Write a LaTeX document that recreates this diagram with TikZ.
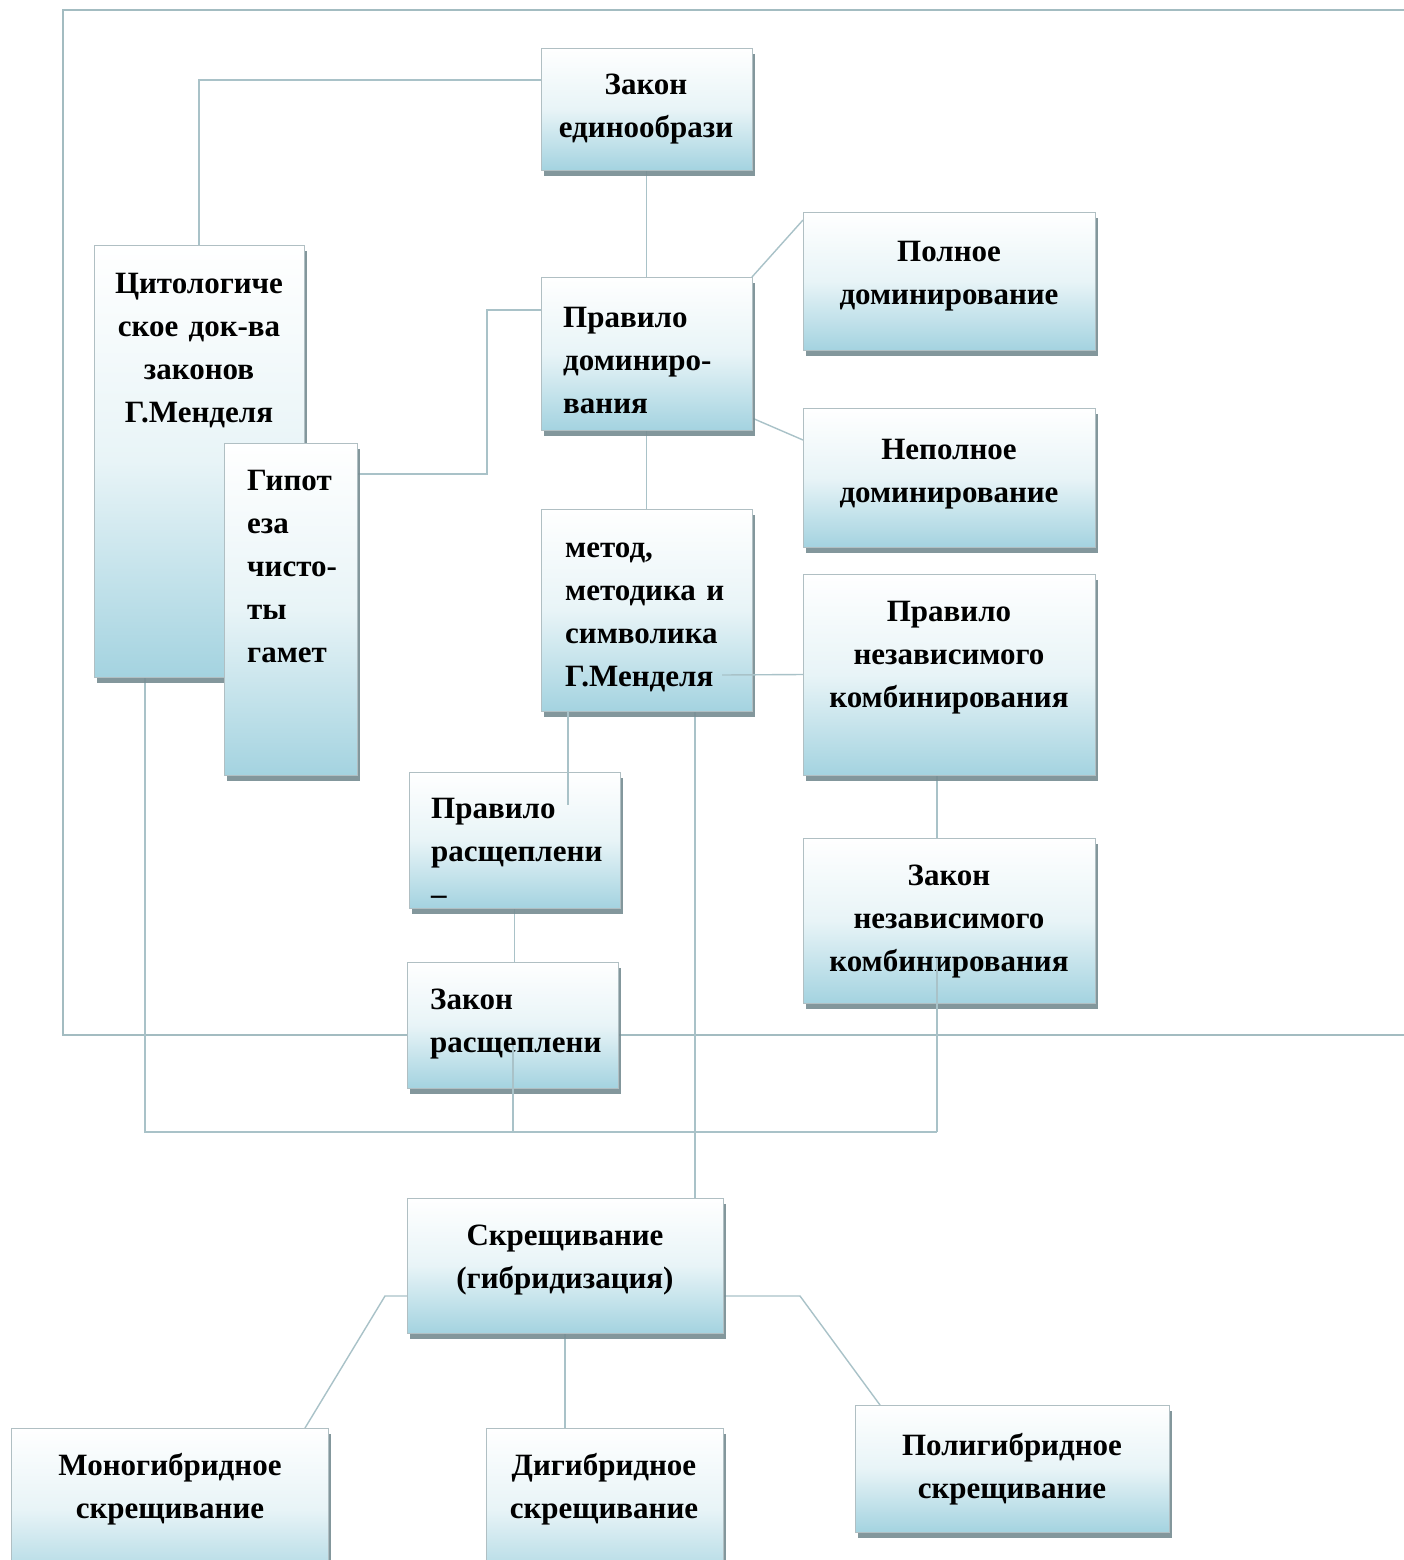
\documentclass[tikz,border=0pt]{standalone}
\usepackage{fontspec}
\setmainfont{Liberation Serif}
\usetikzlibrary{shadows,backgrounds}

\definecolor{boxtop}{HTML}{FFFFFF}
\definecolor{boxmid}{HTML}{E8F4F7}
\definecolor{boxbot}{HTML}{A4D3E0}
\definecolor{boxedge}{HTML}{B0BFC3}
\definecolor{shadowc}{HTML}{768C92}
\definecolor{linkc}{HTML}{A9C2C8}
\definecolor{framec}{HTML}{A3BCC1}

\tikzset{
  gbox/.style={draw=boxedge, line width=0.8pt,
    top color=boxtop, bottom color=boxbot, middle color=boxmid,
    inner sep=0pt, outer sep=0pt,
    drop shadow={shadow xshift=3pt, shadow yshift=-6pt, fill=shadowc, opacity=0.9}},
  txt/.style={font=\fontsize{31}{43}\selectfont\bfseries, inner sep=0pt, text=black},
  ctxt/.style={txt, align=center, anchor=base},
  ltxt/.style={txt, align=left, anchor=base west, text width=190pt},
  link/.style={draw=linkc, line width=1.4pt},
  framel/.style={draw=framec, line width=2pt},
}

% box from (x1,y1) to (x2,y2)
\newcommand\gbox[5]{\node[gbox, minimum width={(#4-#2)*1pt}, minimum height={(#5-#3)*1pt}]
  (#1) at ({(#2+#4)/2},{(#3+#5)/2}) {};}

\begin{document}
\begin{tikzpicture}[x=1pt,y=-1pt]
\useasboundingbox (0,0) rectangle (1404,1560);

% boxes
\gbox{b1}{541}{48}{752}{170}
\gbox{b2}{94}{245}{304}{677}
\gbox{b3}{224}{443}{357}{775}
\gbox{b4}{541}{277}{752}{430}
\gbox{b5}{803}{212}{1095}{350}
\gbox{b6}{803}{408}{1095}{547}
\gbox{b7}{541}{509}{752}{711}
\gbox{b8}{803}{574}{1095}{775}
\gbox{b9}{409}{772}{620}{908}
\gbox{b10}{803}{838}{1095}{1003}
\gbox{b11}{407}{962}{618}{1088}
\gbox{b12}{407}{1198}{723}{1333}
\gbox{b13}{11}{1428}{328}{1590}
\gbox{b14}{486}{1428}{723}{1590}
\gbox{b15}{855}{1405}{1169}{1532}

% labels
\node[ctxt, text width=200pt] (t1) at (646,95) {Закон\\единообрази};
\node[ctxt, text width=200pt] (t2) at (199,293) {Цитологиче\\ское док-ва\\законов\\Г.Менделя};
\node[ltxt, text width=110pt] (t3) at (247,490) {Гипот\\еза\\чисто-\\ты\\гамет};
\node[ltxt] (t4) at (563,327) {Правило\\доминиро-\\вания};
\node[ctxt, text width=280pt] (t5) at (949,261) {Полное\\доминирование};
\node[ctxt, text width=280pt] (t6) at (949,459) {Неполное\\доминирование};
\node[ltxt] (t7) at (565,557) {метод,\\методика и\\символика\\Г.Менделя};
\node[ctxt, text width=280pt] (t8) at (949,621) {Правило\\независимого\\комбинирования};
\node[ltxt] (t9) at (431,818) {Правило\\расщеплени\\–};
\node[ctxt, text width=280pt] (t10) at (949,885) {Закон\\независимого\\комбинирования};
\node[ltxt] (t11) at (430,1009) {Закон\\расщеплени};
\node[ctxt, text width=300pt] (t12) at (565,1245) {Скрещивание\\(гибридизация)};
\node[ctxt, text width=300pt] (t13) at (170,1475) {Моногибридное\\скрещивание};
\node[ctxt, text width=230pt] (t14) at (604,1475) {Дигибридное\\скрещивание};
\node[ctxt, text width=300pt] (t15) at (1012,1455) {Полигибридное\\скрещивание};

% junction points of the lower bus
\coordinate (jR) at (937,1132);
\coordinate (jM) at (513,1132);

% connectors behind the boxes
\begin{scope}[on background layer]
  \fill[white] (0,0) rectangle (1404,1560);
  \draw[framel] (1420,10) -| (63,1035) -- (1420,1035);
  \draw[link] (b1.west |- 0,80) -| (b2.north);
  \draw[link] (b1.south) -- (b4.north);
  \draw[link] (b4.north east) -- (b5.west |- 0,220);
  \draw[link] (b4.east |- 0,418) -- (b6.west |- 0,440);
  \draw[link] (b4.west |- 0,310) -- (487,310) |- (b3.east |- 0,474);
  \draw[link] (b4.south) -- (b7.north);
  \draw[link] (b7.south -| 695,0) -- (b12.north -| 695,0);
  \draw[link] (b9.south) -- (b9.south |- b11.north);
  \draw[link] (b8.south -| 937,0) -- (b10.north -| 937,0);
  \draw[link] (b2.south -| 145,0) |- (jR);
  \draw[link] (b12.west |- 0,1296) -- (385,1296) -- (b13.north -| 305,0);
  \draw[link] (b12.south) -- (b12.south |- b14.north);
  \draw[link] (b12.east |- 0,1296) -- (800,1296) -- (b15.north -| 880,0);
\end{scope}

% connectors that run over the boxes
\coordinate (pA) at (722,675);
\coordinate (pB) at (568,805);
\coordinate (pC) at (937,958);
\coordinate (pD) at (513,1045);
\draw[link] (pA) -- (b8.west);
\draw[link] (b7.south -| pB) -- (pB);
\draw[link] (pC) -- (jR);
\draw[link] (pD) -- (jM);
\end{tikzpicture}
\end{document}
